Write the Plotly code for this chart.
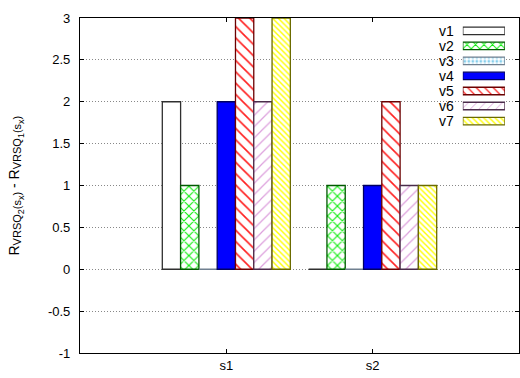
import plotly.graph_objects as go

categories = ["s1", "s2"]
series_names = ["v1", "v2", "v3", "v4", "v5", "v6", "v7"]
values = {
    "v1": [2, 0],
    "v2": [1, 1],
    "v3": [0, 0],
    "v4": [2, 1],
    "v5": [3, 2],
    "v6": [2, 1],
    "v7": [3, 1],
}
y_ticks = [-1, -0.5, 0, 0.5, 1, 1.5, 2, 2.5, 3]
y_tick_text = ["-1", "-0.5", "0", "0.5", "1", "1.5", "2", "2.5", "3"]

styles = {
    "v1": dict(shape="", fg="white", line="#303030", size=8, sol=0.3),
    "v2": dict(shape="x", fg="#11ee11", line="#005a00", size=7, sol=0.3),
    "v3": dict(shape=".", fg="#87ceeb", line="#708090", size=4, sol=0.4),
    "v4": dict(shape="", fg="#0000ff", line="#000060", size=8, sol=0.3),
    "v5": dict(shape="\\", fg="#ff2020", line="#6b0000", size=8, sol=0.2),
    "v6": dict(shape="/", fg="#dda0dd", line="#4b2c4b", size=8, sol=0.15),
    "v7": dict(shape="\\", fg="#ffff00", line="#6b6b00", size=4, sol=0.35),
}

FONT = "Liberation Sans, Arial, sans-serif"
fig = go.Figure()

for name in series_names:
    st = styles[name]
    fig.add_trace(go.Bar(
        x=categories, y=values[name], name=name, showlegend=False,
        marker=dict(
            color=st["fg"],
            line=dict(color=st["line"], width=1.3),
            pattern=dict(shape=st["shape"], fgcolor=st["fg"], bgcolor="white",
                         size=st["size"], solidity=st["sol"], fillmode="replace"),
        ),
        xaxis="x", yaxis="y",
    ))

# key drawn as a small bar chart in the top-right
fig.add_trace(go.Bar(
    y=series_names, x=[1] * len(series_names), orientation="h", showlegend=False,
    width=0.5, hoverinfo="skip",
    marker=dict(
        color=[styles[n]["fg"] for n in series_names],
        line=dict(color=[styles[n]["line"] for n in series_names], width=1.3),
        pattern=dict(shape=[styles[n]["shape"] for n in series_names],
                     fgcolor=[styles[n]["fg"] for n in series_names],
                     bgcolor="white",
                     size=[min(styles[n]["size"], 6) for n in series_names],
                     solidity=[styles[n]["sol"] for n in series_names],
                     fillmode="replace"),
    ),
    xaxis="x2", yaxis="y2",
))

axis_line = dict(showline=True, linecolor="black", linewidth=1.2, mirror="allticks",
                 ticks="inside", ticklen=4, tickcolor="black", zeroline=False)

s_big = '<span style="font-size:11px">'
s_small = '<span style="font-size:9px">'
title = ("R<sub>" + s_big + "VRSQ</span><sub>" + s_small + "2</span></sub>" + s_big + "(s</span><sub>"
         + s_small + "x</span></sub>" + s_big + ")</span></sub> - R<sub>" + s_big + "VRSQ</span><sub>"
         + s_small + "1</span></sub>" + s_big + "(s</span><sub>" + s_small + "x</span></sub>"
         + s_big + ")</span></sub>")

fig.update_layout(
    width=520, height=378,
    margin=dict(l=80, r=1, t=18, b=25),
    paper_bgcolor="white", plot_bgcolor="white",
    barmode="group", bargap=0.125, bargroupgap=0,
    font=dict(family=FONT, size=13, color="black"),
    xaxis=dict(range=[-1, 2], type="category", showgrid=False, **axis_line,
               tickfont=dict(size=13)),
    yaxis=dict(range=[-1, 3], tickvals=y_ticks, ticktext=y_tick_text,
               showgrid=True, gridcolor="#888888", griddash="1px,2px", gridwidth=1,
               tickfont=dict(size=13), ticklabelstandoff=6, **axis_line),
    xaxis2=dict(domain=[0.872, 0.968], range=[0, 1], anchor="y2", visible=False),
    yaxis2=dict(domain=[0.67, 0.984], anchor="x2", range=[6.5, -0.5], type="category",
                tickmode="array", tickvals=series_names, ticktext=series_names,
                showgrid=False, showline=False, ticks="", zeroline=False,
                tickfont=dict(size=14), ticklabelstandoff=8),
    annotations=[dict(
        text=title,
        xref="paper", yref="paper", x=-0.148, y=0.5, textangle=-90,
        showarrow=False, xanchor="center", yanchor="middle",
        font=dict(size=14, family=FONT),
    )],
)

fig.write_html("out.html")
